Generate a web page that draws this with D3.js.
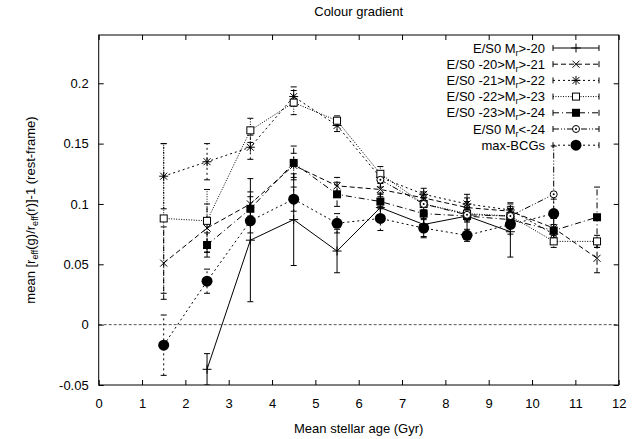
<!DOCTYPE html>
<html><head><meta charset="utf-8">
<script src="https://cdn.jsdelivr.net/npm/d3@7"></script>
<style>body{margin:0;background:#fff}svg{display:block}text{font-family:"Liberation Sans",Arial,sans-serif;fill:#000}</style>
</head><body>
<script>
const ages = [1.5,2.5,3.5,4.5,5.5,6.5,7.5,8.5,9.5,10.5,11.5];
const xTicks = [0,1,2,3,4,5,6,7,8,9,10,11,12];
const yTicks = [-0.05,0,0.05,0.1,0.15,0.2];
const yTickLabels = ["-0.05","0","0.05","0.1","0.15","0.2"];

// values per age bin (null = no point)
const s1Vals = [null,-0.037,0.070,0.087,0.061,0.097,0.083,0.090,0.077,null,null];
const s1Errs = [null,0.013,0.051,0.038,0.018,0.012,0.010,0.018,0.021,null,null];
const s2Vals = [0.051,0.080,0.100,0.132,0.115,0.112,0.105,0.097,0.094,0.080,0.055];
const s2Errs = [0.030,0.020,0.010,0.010,0.007,0.006,0.005,0.005,0.006,0.008,0.012];
const s3Vals = [0.123,0.135,0.147,0.189,0.165,0.122,0.108,0.100,0.095,0.075,null];
const s3Errs = [0.027,0.015,0.010,0.008,0.005,0.005,0.005,0.005,0.006,0.008,null];
const s4Vals = [0.088,0.086,0.161,0.184,0.169,0.125,0.100,0.092,0.090,0.069,0.069];
const s4Errs = [0.062,0.026,0.010,0.010,0.004,0.006,0.005,0.005,0.006,0.005,0.005];
const s5Vals = [null,0.066,0.096,0.134,0.108,0.102,0.092,0.090,0.087,0.078,0.089];
const s5Errs = [null,0.010,0.010,0.014,0.010,0.006,0.005,0.005,0.006,0.010,0.025];
const s6Vals = [null,null,null,null,null,0.120,0.100,0.091,0.090,0.108,null];
const s6Errs = [null,null,null,null,null,0.006,0.005,0.005,0.006,0.040,null];
const s7Vals = [-0.017,0.036,0.086,0.104,0.084,0.088,0.080,0.074,0.083,0.092,null];
const s7Errs = [0.025,0.010,0.010,0.010,0.008,0.010,0.008,0.005,0.008,0.012,null];

const seriesNames = [
  ["E/S0 M","r",">-20"],
  ["E/S0 -20>M","r",">-21"],
  ["E/S0 -21>M","r",">-22"],
  ["E/S0 -22>M","r",">-23"],
  ["E/S0 -23>M","r",">-24"],
  ["E/S0 M","r","<-24"],
  ["max-BCGs","",""]
];
const seriesVals = [s1Vals,s2Vals,s3Vals,s4Vals,s5Vals,s6Vals,s7Vals];
const seriesErrs = [s1Errs,s2Errs,s3Errs,s4Errs,s5Errs,s6Errs,s7Errs];
const dashes = [null,"5,3","2,3","1,1.5","6,3,1,3","6,2,1,2,1,2","2,3"];
const markers = ["plus","cross","star","box","fbox","odot","fcircle"];

const W=640,H=439;
const M={l:98.7,r:618.7,t:35,b:385};
const svg=d3.select("body").append("svg").attr("width",W).attr("height",H);
const x=d3.scaleLinear().domain([0,12]).range([M.l,M.r]);
const y=d3.scaleLinear().domain([-0.05,0.24]).range([M.b,M.t]);

svg.append("clipPath").attr("id","c").append("rect")
  .attr("x",M.l).attr("y",M.t).attr("width",M.r-M.l).attr("height",M.b-M.t);

// zero line
svg.append("line").attr("x1",M.l).attr("x2",M.r).attr("y1",y(0)).attr("y2",y(0))
  .attr("stroke","#555").attr("stroke-dasharray","3,2").attr("stroke-width",1);

// axes with inward ticks, mirrored
const tl=5;
const axB=d3.axisBottom(x).tickValues(xTicks).tickSize(-tl).tickPadding(14).tickFormat(d3.format("d"));
const axT=d3.axisTop(x).tickValues(xTicks).tickSize(-tl).tickFormat("");
const axL=d3.axisLeft(y).tickValues(yTicks).tickSize(-tl).tickPadding(10).tickFormat((d,i)=>yTickLabels[i]);
const axR=d3.axisRight(y).tickValues(yTicks).tickSize(-tl).tickFormat("");
function styl(g){g.select(".domain").remove();g.selectAll("line").attr("stroke","#000");g.selectAll("text").style("font-size","13px").style("font-family","'Liberation Sans',Arial,sans-serif");}
svg.append("g").attr("transform",`translate(0,${M.b})`).call(axB).call(styl);
svg.append("g").attr("transform",`translate(0,${M.t})`).call(axT).call(styl);
svg.append("g").attr("transform",`translate(${M.l},0)`).call(axL).call(styl);
svg.append("g").attr("transform",`translate(${M.r},0)`).call(axR).call(styl);
svg.append("rect").attr("x",M.l).attr("y",M.t).attr("width",M.r-M.l).attr("height",M.b-M.t)
  .attr("fill","none").attr("stroke","#000").attr("stroke-width",1);

function drawMarker(g,type,cx,cy){
  const s=g.append("g").attr("transform",`translate(${cx},${cy})`);
  const ln=(a,b,c,d)=>s.append("line").attr("x1",a).attr("y1",b).attr("x2",c).attr("y2",d).attr("stroke","#000").attr("stroke-width",1);
  if(type==="plus"){ln(-4.5,0,4.5,0);ln(0,-4.5,0,4.5);}
  else if(type==="cross"){ln(-3.5,-3.5,3.5,3.5);ln(-3.5,3.5,3.5,-3.5);}
  else if(type==="star"){ln(-4.5,0,4.5,0);ln(0,-4.5,0,4.5);ln(-3.5,-3.5,3.5,3.5);ln(-3.5,3.5,3.5,-3.5);}
  else if(type==="box"){s.append("rect").attr("x",-3.5).attr("y",-3.5).attr("width",7).attr("height",7).attr("fill","#fff").attr("stroke","#000");}
  else if(type==="fbox"){s.append("rect").attr("x",-4).attr("y",-4).attr("width",8).attr("height",8).attr("fill","#000");}
  else if(type==="odot"){s.append("circle").attr("r",3.5).attr("fill","#fff").attr("stroke","#000");s.append("circle").attr("r",1).attr("fill","#000");}
  else if(type==="fcircle"){s.append("circle").attr("r",5.5).attr("fill","#000");}
}

const plot=svg.append("g").attr("clip-path","url(#c)");
seriesVals.forEach((vals,si)=>{
  const errs=seriesErrs[si];
  const pts=ages.map((a,i)=>({a,v:vals[i],e:errs[i]})).filter(d=>d.v!==null);
  const g=plot.append("g");
  const line=d3.line().x(d=>x(d.a)).y(d=>y(d.v));
  const p=g.append("path").attr("d",line(pts)).attr("fill","none").attr("stroke","#000").attr("stroke-width",1);
  if(dashes[si]) p.attr("stroke-dasharray",dashes[si]);
  pts.forEach(d=>{
    const eb=g.append("g");
    const l1=eb.append("line").attr("x1",x(d.a)).attr("x2",x(d.a)).attr("y1",y(d.v-d.e)).attr("y2",y(d.v+d.e)).attr("stroke","#000");
    if(dashes[si]) l1.attr("stroke-dasharray",dashes[si]);
    [d.v-d.e,d.v+d.e].forEach(v=>eb.append("line").attr("x1",x(d.a)-3).attr("x2",x(d.a)+3).attr("y1",y(v)).attr("y2",y(v)).attr("stroke","#000"));
  });
});
seriesVals.forEach((vals,si)=>{
  ages.forEach((a,i)=>{ if(vals[i]!==null) drawMarker(plot,markers[si],x(a),y(vals[i])); });
});

// legend
const lg=svg.append("g");
seriesNames.forEach((nm,i)=>{
  const ly=48+i*16.2;
  const t=lg.append("text").attr("x",545).attr("y",ly+4.5).attr("text-anchor","end").style("font-size","13px");
  t.append("tspan").text(nm[0]);
  if(nm[1]){
    t.append("tspan").attr("dy",3).style("font-size","9px").text(nm[1]);
    t.append("tspan").attr("dy",-3).text(nm[2]);
  }
  const l=lg.append("line").attr("x1",553).attr("x2",599).attr("y1",ly).attr("y2",ly).attr("stroke","#000");
  if(dashes[i]) l.attr("stroke-dasharray",dashes[i]);
  [553,599].forEach(xx=>lg.append("line").attr("x1",xx).attr("x2",xx).attr("y1",ly-3).attr("y2",ly+3).attr("stroke","#000"));
  drawMarker(lg,markers[i],576,ly);
});

// labels
svg.append("text").attr("x",(M.l+M.r)/2).attr("y",16).attr("text-anchor","middle").style("font-size","13px").text("Colour gradient");
svg.append("text").attr("x",(M.l+M.r)/2).attr("y",433).attr("text-anchor","middle").style("font-size","13px").text("Mean stellar age (Gyr)");
const yl=svg.append("text").attr("transform",`translate(35,${(M.t+M.b)/2}) rotate(-90)`).attr("text-anchor","middle").style("font-size","13px");
yl.append("tspan").text("mean [r");
yl.append("tspan").attr("dy",3).style("font-size","9px").text("eff");
yl.append("tspan").attr("dy",-3).text("(g)/r");
yl.append("tspan").attr("dy",3).style("font-size","9px").text("eff");
yl.append("tspan").attr("dy",-3).text("(r)]-1 (rest-frame)");
</script>
</body></html>
